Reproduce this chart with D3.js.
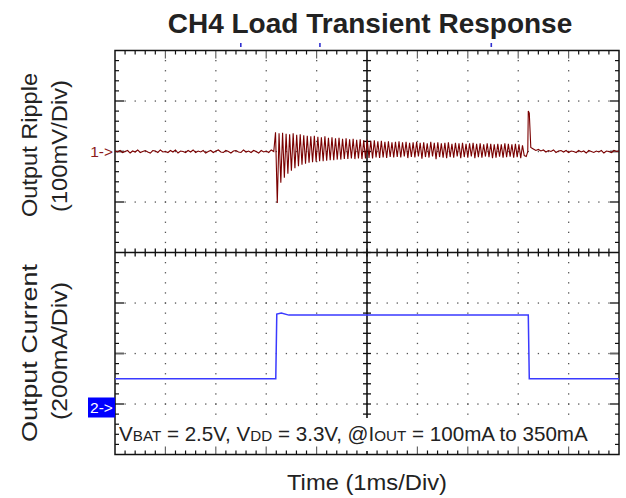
<!DOCTYPE html>
<html lang="en">
<head>
<meta charset="utf-8">
<title>CH4 Load Transient Response</title>
<script src="https://d3js.org/d3.v7.min.js"></script>
<style>
  body { margin: 0; background: #fff; }
  svg { display: block; font-family: "Liberation Sans", Arial, Helvetica, sans-serif; }
</style>
</head>
<body>
<script>
// ---- data read off the scope capture ----
// time axis: 0..10 ms (1 ms/div), ripple in mV (100 mV/div), current in mA (200 mA/div)
var rippleBefore = [1, -1, 2, -2, 0, 2, -3, 1, -1, 3, -2, 0, 2, -1, -3, 2, 1, -2, 3, -1, 0, -2, 2, -1, 3, -3, 1, 0, -2, 2, -1, 3,
  -2, 1, -1, 2, -3, 0, 2, -2, 1, 3, -1, -2, 2, 0, -3, 1, 2, -1, -2, 3, -1, 1, -2, 2, 0, -3, 2, -1, 1, -2, 3];
var rippleBeforeStart = 0, rippleBeforeStep = 0.05;

var rippleTransient = [0, 38, -102, 36, -62, 37, -52, 35, -44, 34, -38, 36, -33, 33, -29, 34, -26, 32, -24, 31,
  -22, 30, -21, 31, -20, 29, -19, 28, -19, 30, -18, 27, -17, 28, -17, 26, -16, 27, -16, 25,
  -15, 26, -15, 24, -14, 25, -15, 23, -14, 24, -15, 22, -14, 23, -13, 21, -14, 22, -12, 20,
  -13, 21, -12, 19, -13, 20, -11, 18, -12, 19, -11, 20, -12, 18, -10, 19, -13, 17, -11, 18,
  -12, 19, -10, 17, -14, 18, -11, 16, -12, 19, -10, 17, -15, 18, -11, 16, -12, 17, -13, 18,
  -11, 15, -12, 17, -10, 16, -13, 17, -11, 15, -12, 16, -10, 17, -13, 15, -11, 16, -12, 14,
  -10, 16, -11, 15, -13, 14, -12, 15, -10, 14, -12, 16, -11, 15, -10, 14, -12, 15, -11, 14,
  -13, 12, -8];
var rippleTransientStart = 3.15, rippleTransientStep = 0.035;

var spikeTimes  = [8.16, 8.19, 8.2, 8.22, 8.25];
var spikeValues = [-10, 0, 80, 76, 8];

var rippleAfter = [5, 2, 4, 1, 3, -1, 2, 0, 3, -2, 1, 2, -1, 2, -2, 1, 0, -2, 2, -1, 1, -3, 2, 0, -2, 1, -1, 2, -3, 1, 0, -2, 2, 0, 1];
var rippleAfterStart = 8.3, rippleAfterStep = 0.05;

var currentTimes  = [0, 3.19, 3.21, 3.3, 3.45, 3.6, 8.2, 8.22, 10];
var currentValues = [100, 100, 356, 360, 352, 352, 352, 100, 100];

var markerTimes = [2.5, 4.07, 7.47];

var titleText = "CH4 Load Transient Response";
var xLabel = "Time (1ms/Div)";

// ---- layout ----
var w = 626, h = 498;
var plotL = 115, plotR = 619, plotT = 50.5, plotB = 454.5;

var svg = d3.select("body").append("svg").attr("width", w).attr("height", h);

var x = d3.scaleLinear().domain([0, 10]).range([plotL, plotR]);
var yDiv = d3.scaleLinear().domain([0, 8]).range([plotT, plotB]);
// channel 1 zero at div 2, channel 2 zero at div 7
var yRipple = function(mv) { return yDiv(2 - mv / 100); };
var yCurrent = function(ma) { return yDiv(7 - ma / 200); };

var xMinor = d3.range(1, 50).map(function(i) { return i / 5; });
var yMinor = d3.range(1, 40).map(function(i) { return i / 5; });

// dotted grid
var grid = svg.append("g").attr("fill", "#555");
[1, 2, 3, 4, 6, 7, 8, 9].forEach(function(gx) {
  yMinor.forEach(function(d) {
    grid.append("rect").attr("x", x(gx) - 0.6).attr("y", yDiv(d) - 0.6).attr("width", 1.3).attr("height", 1.3);
  });
});
[1, 2, 3, 5, 6, 7].forEach(function(gy) {
  xMinor.forEach(function(t) {
    grid.append("rect").attr("x", x(t) - 0.6).attr("y", yDiv(gy) - 0.6).attr("width", 1.3).attr("height", 1.3);
  });
});

// centre cross with ticks
var cx = x(5), cy = yDiv(4);
var center = svg.append("g").attr("stroke", "#111").attr("stroke-width", 1.3);
center.append("line").attr("x1", cx).attr("x2", cx).attr("y1", plotT).attr("y2", plotB).attr("stroke-width", 1.6);
center.append("line").attr("x1", plotL).attr("x2", plotR).attr("y1", cy).attr("y2", cy).attr("stroke-width", 1.6);
yMinor.forEach(function(d) {
  center.append("line").attr("x1", cx - 4).attr("x2", cx + 4).attr("y1", yDiv(d)).attr("y2", yDiv(d));
});
xMinor.forEach(function(t) {
  center.append("line").attr("x1", x(t)).attr("x2", x(t)).attr("y1", cy - 4).attr("y2", cy + 4);
});

// white box behind the conditions text
svg.append("rect").attr("x", plotL + 2).attr("y", 418).attr("width", 498).attr("height", 33).attr("fill", "#fff");

// frame ticks
var ticks = svg.append("g").attr("stroke", "#111").attr("stroke-width", 1.2);
xMinor.forEach(function(t, i) {
  var major = (i + 1) % 5 === 0;
  if ((i + 1) === 25) return;
  var len = major ? 8 : 4;
  var col = major ? "#666" : "#111";
  ticks.append("line").attr("x1", x(t)).attr("x2", x(t)).attr("y1", plotT).attr("y2", plotT + len).attr("stroke", col);
  ticks.append("line").attr("x1", x(t)).attr("x2", x(t)).attr("y1", plotB).attr("y2", plotB - len).attr("stroke", col);
});
yMinor.forEach(function(d, i) {
  var major = (i + 1) % 5 === 0;
  if ((i + 1) === 20) return;
  var len = major ? 9 : 4;
  var col = major ? "#666" : "#111";
  var sw = major ? 2 : 1.2;
  ticks.append("line").attr("x1", plotL).attr("x2", plotL + len).attr("y1", yDiv(d)).attr("y2", yDiv(d)).attr("stroke", col).attr("stroke-width", sw);
  ticks.append("line").attr("x1", plotR).attr("x2", plotR - len).attr("y1", yDiv(d)).attr("y2", yDiv(d)).attr("stroke", col).attr("stroke-width", sw);
});

svg.append("rect").attr("x", plotL).attr("y", plotT).attr("width", plotR - plotL).attr("height", plotB - plotT)
  .attr("fill", "none").attr("stroke", "#111").attr("stroke-width", 1.5);

// trigger markers above the frame
markerTimes.forEach(function(t) {
  svg.append("rect").attr("x", x(t) - 1).attr("y", 43).attr("width", 1.6).attr("height", 4).attr("fill", "#3030d0");
});

// ---- traces ----
function toPoints(arr, start, step) {
  return arr.map(function(v, i) { return [start + i * step, v]; });
}
var ripplePts = toPoints(rippleBefore, rippleBeforeStart, rippleBeforeStep)
  .concat(toPoints(rippleTransient, rippleTransientStart, rippleTransientStep))
  .concat(spikeTimes.map(function(t, i) { return [t, spikeValues[i]]; }))
  .concat(toPoints(rippleAfter, rippleAfterStart, rippleAfterStep));

var rippleLine = d3.line().x(function(d) { return x(d[0]); }).y(function(d) { return yRipple(d[1]); });
svg.append("path").datum(ripplePts).attr("d", rippleLine)
  .attr("fill", "none").attr("stroke", "#7a0000").attr("stroke-width", 1.1).attr("stroke-linejoin", "miter");

var currentPts = currentTimes.map(function(t, i) { return [t, currentValues[i]]; });
var currentLine = d3.line().x(function(d) { return x(d[0]); }).y(function(d) { return yCurrent(d[1]); });
svg.append("path").datum(currentPts).attr("d", currentLine)
  .attr("fill", "none").attr("stroke", "#3a3aff").attr("stroke-width", 1.5);

// channel markers
svg.append("text").attr("x", 113).attr("y", yRipple(0) + 5.5).attr("text-anchor", "end")
  .attr("font-size", 15.5).attr("fill", "#8b1a1a").text("1->");
svg.append("rect").attr("x", 88).attr("y", yCurrent(0) - 6.5).attr("width", 27).attr("height", 20).attr("fill", "#0000ff");
svg.append("text").attr("x", 101.5).attr("y", yCurrent(0) + 9).attr("text-anchor", "middle")
  .attr("font-size", 15.5).attr("fill", "#fff").text("2->");

// ---- text ----
svg.append("text").attr("x", 370).attr("y", 33).attr("text-anchor", "middle")
  .attr("font-size", 28).attr("font-weight", "bold").attr("fill", "#222").text(titleText);

svg.append("text").attr("x", 367).attr("y", 490).attr("text-anchor", "middle")
  .attr("font-size", 22).attr("fill", "#222").attr("textLength", 160).attr("lengthAdjust", "spacingAndGlyphs").text(xLabel);

var yLabels = [
  { text: "Output Ripple", x: 37, y: 145, len: 144 },
  { text: "(100mV/Div)", x: 67, y: 146, len: 132 },
  { text: "Output Current", x: 37, y: 353, len: 178 },
  { text: "(200mA/Div)", x: 67, y: 351, len: 138 }
];
yLabels.forEach(function(d) {
  svg.append("text").attr("transform", "translate(" + d.x + "," + d.y + ") rotate(-90)")
    .attr("text-anchor", "middle").attr("font-size", 22).attr("fill", "#222")
    .attr("textLength", d.len).attr("lengthAdjust", "spacingAndGlyphs").text(d.text);
});

// conditions line with small subscripts
var cond = svg.append("text").attr("x", 119).attr("y", 441).attr("font-size", 20.6).attr("fill", "#222");
[["V", 20.6], ["BAT", 15.2], [" = 2.5V, V", 20.6], ["DD", 15.2], [" = 3.3V, @I", 20.6], ["OUT", 15.2], [" = 100mA to 350mA", 20.6]]
  .forEach(function(p) { cond.append("tspan").attr("font-size", p[1]).text(p[0]); });
</script>
</body>
</html>
